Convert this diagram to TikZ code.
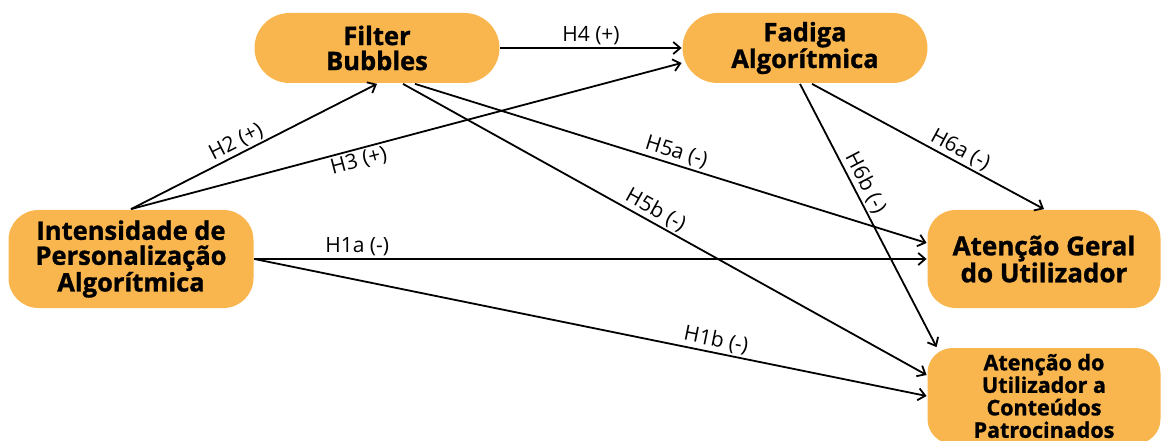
\documentclass[tikz,border=0pt]{standalone}
\usepackage{fontspec}
\setmainfont{Open Sans}[BoldFeatures={FakeBold=1.2}]
\usetikzlibrary{arrows.meta}
\definecolor{boxorange}{RGB}{250,182,78}

\begin{document}
\begin{tikzpicture}[x=1pt,y=-1pt,line width=1.8pt,>={Straight Barb[length=7pt,width=12pt]}]
\tikzstyle{var}=[fill=boxorange,font=\bfseries\fontsize{25.5}{25}\selectfont,align=center,inner sep=0pt];
\tikzstyle{dir}=[->];
\tikzstyle{hyp}=[font=\fontsize{21}{22}\selectfont,sloped,inner sep=2pt];

\useasboundingbox (0,0) rectangle (1163,441);

\node [var,rounded corners=35pt,minimum width=245pt,minimum height=70pt] (fb) at (377,48) {Filter\\Bubbles};
\node [var,rounded corners=35pt,minimum width=245pt,minimum height=70pt] (fad) at (805,48) {Fadiga\\Algorítmica};
\node [var,rounded corners=30pt,minimum width=245pt,minimum height=98pt] (ipa) at (131,259) {Intensidade de\\Personalização\\Algorítmica};
\node [var,rounded corners=28pt,minimum width=233pt,minimum height=98pt,font=\bfseries\fontsize{26}{27}\selectfont] (geral) at (1044,259) {Atenção Geral\\do Utilizador};
\node [var,rounded corners=25pt,minimum width=233pt,minimum height=96pt,font=\bfseries\fontsize{21.5}{22.5}\selectfont] (pat) at (1044,396) {Atenção do\\Utilizador a\\Conteúdos\\Patrocinados};

\draw [dir] (ipa.east) -- node [hyp,above,pos=0.153] {H1a (-)} (geral.west);
\draw [dir] (ipa.east) -- node [hyp,above,pos=0.683] {H1b (-)} (pat.west);
\draw [dir] (ipa.north) -- node [hyp,above,pos=0.45] {H2 (+)} (fb.south);
\draw [dir] (ipa.north) -- node [hyp,below,pos=0.408] {H3 (+)} ([yshift=-15pt]fad.west);
\draw [dir] (fb.east) -- node [hyp,above,pos=0.5] {H4 (+)} (fad.west);
\draw [dir] ([xshift=38pt]fb.south) -- node [hyp,above,pos=0.504] {H5a (-)} ([yshift=16pt]geral.west);
\draw [dir] ([xshift=26pt]fb.south) -- node [hyp,above,pos=0.471] {H5b (-)} ([yshift=21pt]pat.west);
\draw [dir] ([xshift=7pt]fad.south) -- node [hyp,above,pos=0.614] {H6a (-)} (geral.north);
\draw [dir] ([xshift=-5pt]fad.south) -- node [hyp,above,pos=0.398] {H6b (-)} ([xshift=10pt]pat.north west);
\end{tikzpicture}
\end{document}
